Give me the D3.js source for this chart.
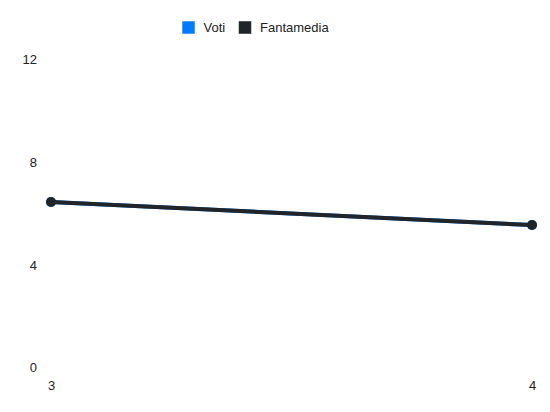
<!DOCTYPE html>
<html><head><meta charset="utf-8">
<script src="https://cdn.jsdelivr.net/npm/d3@7"></script>
<style>body{margin:0;background:#fff}svg{display:block}text{font-family:"Liberation Sans",Arial,Helvetica,sans-serif;fill:#222}</style>
</head><body><svg id="c" width="550" height="412"></svg>
<script>
const categories = [3, 4];
const seriesNames = ["Voti", "Fantamedia"];
const seriesColors = ["#007bff", "#212529"];
const voti = [6.45, 5.55];
const fantamedia = [6.45, 5.55];
const yTicks = [0, 4, 8, 12];

const svg = d3.select("#c");
const x = d3.scalePoint().domain(categories).range([51, 532]);
const y = d3.scaleLinear().domain([0, 12]).range([367.5, 59.5]);

const fontFam = '"Liberation Sans",Arial,Helvetica,sans-serif';

// Y axis labels
const yAxis = d3.axisLeft(y).tickValues(yTicks).tickSize(0).tickPadding(0);
const gy = svg.append("g").attr("transform", "translate(37,0)").call(yAxis);
gy.select(".domain").remove();
gy.selectAll("text").attr("font-size", 13).style("font-family", fontFam).attr("fill", "#222");

// X axis labels
const xAxis = d3.axisBottom(x).tickSize(0).tickPadding(0);
const gx = svg.append("g").attr("transform", "translate(0,381)").call(xAxis);
gx.select(".domain").remove();
gx.selectAll("text").attr("font-size", 13).style("font-family", fontFam).attr("fill", "#222");

const data = [voti, fantamedia];
const line = d3.line().x((d, i) => x(categories[i])).y(d => y(d));
data.forEach((vals, s) => {
  svg.append("path").datum(vals).attr("d", line)
    .attr("fill", "none").attr("stroke", seriesColors[s]).attr("stroke-width", 4);
  svg.selectAll(null).data(vals).enter().append("circle")
    .attr("cx", (d, i) => x(categories[i])).attr("cy", d => y(d))
    .attr("r", 5).attr("fill", seriesColors[s]);
});

// Legend
const legendX = [182, 238.5];
const lg = svg.append("g");
seriesNames.forEach((n, i) => {
  lg.append("rect").attr("x", legendX[i]).attr("y", 21).attr("width", 13).attr("height", 13)
    .attr("fill", seriesColors[i]).attr("stroke", "#fff").attr("stroke-width", 0.5);
  lg.append("text").attr("x", legendX[i] + 21.5).attr("y", 27.5).attr("dy", "0.35em")
    .attr("font-size", 13).style("font-family", fontFam).text(n);
});
</script></body></html>
